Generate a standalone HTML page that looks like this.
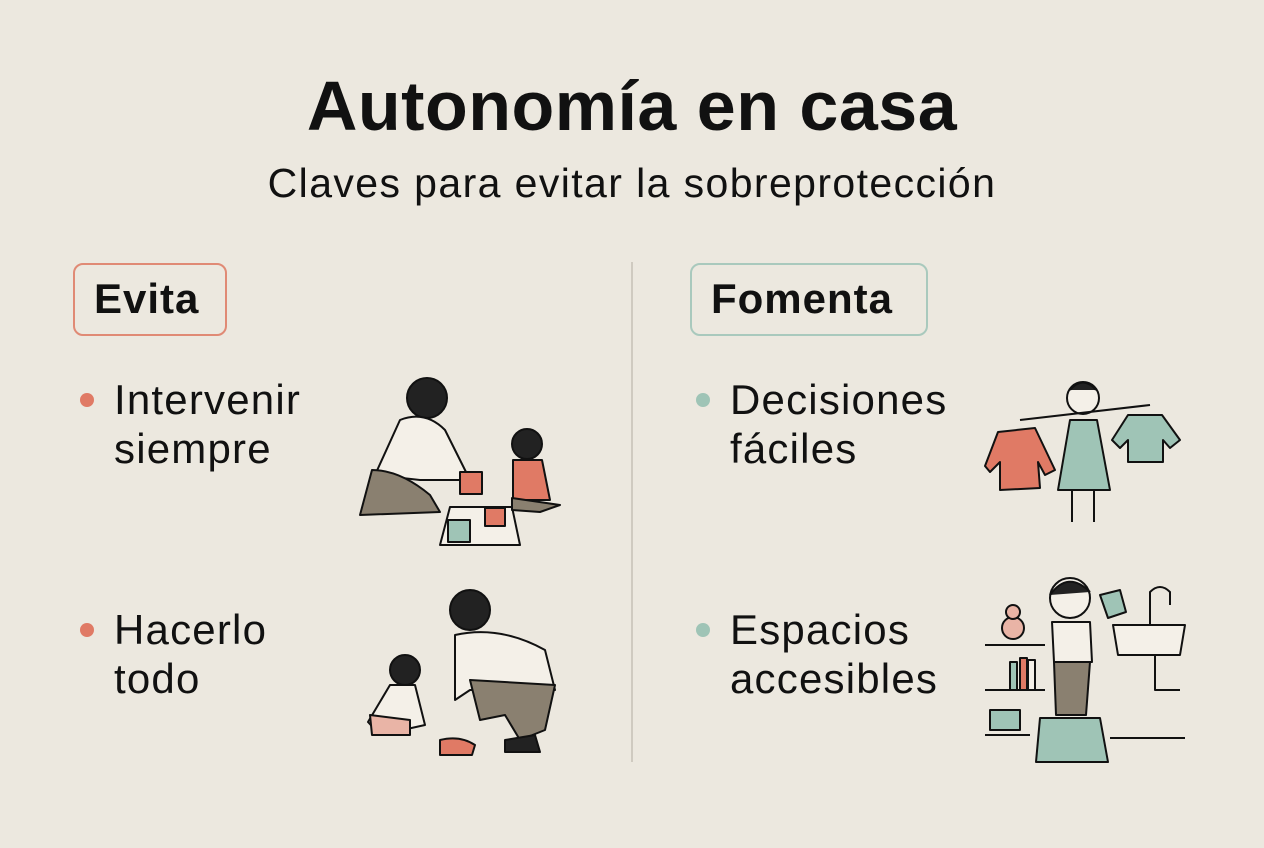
<!DOCTYPE html>
<html><head><meta charset="utf-8"><style>
body{margin:0;width:1264px;height:848px;background:#ece8df;font-family:"Liberation Sans",sans-serif;position:relative;overflow:hidden;color:#111}
.a{position:absolute}
h1{position:absolute;left:0;width:1264px;top:66px;margin:0;text-align:center;font-size:70px;font-weight:bold;letter-spacing:0.5px}
.sub{left:0;width:1264px;top:160px;text-align:center;font-size:41px;letter-spacing:1.4px}
.box{border:2.5px solid;border-radius:10px;font-size:42px;font-weight:bold;box-sizing:border-box;padding-left:19px;line-height:68px;letter-spacing:1px}
.it{font-size:42px;line-height:49px;letter-spacing:1.2px}
.dot{width:14px;height:14px;border-radius:50%}
</style></head><body>
<h1>Autonomía en casa</h1>
<div class="a sub">Claves para evitar la sobreprotección</div>
<div class="a box" style="left:73px;top:263px;width:154px;height:73px;border-color:#e08a75">Evita</div>
<div class="a box" style="left:690px;top:263px;width:238px;height:73px;border-color:#a9c9bd">Fomenta</div>
<div class="a" style="left:631px;top:262px;width:2px;height:500px;background:#cfcac0"></div>
<div class="a dot" style="left:80px;top:393px;background:#e07a65"></div>
<div class="a it" style="left:114px;top:375px">Intervenir<br>siempre</div>
<div class="a dot" style="left:80px;top:623px;background:#e07a65"></div>
<div class="a it" style="left:114px;top:605px">Hacerlo<br>todo</div>
<div class="a dot" style="left:696px;top:393px;background:#9fc4b6"></div>
<div class="a it" style="left:730px;top:375px">Decisiones<br>fáciles</div>
<div class="a dot" style="left:696px;top:623px;background:#9fc4b6"></div>
<div class="a it" style="left:730px;top:605px">Espacios<br>accesibles</div>
<svg class="a" style="left:0;top:0" width="1264" height="848" stroke="#111" stroke-width="2" stroke-linejoin="round">
<polygon points="450,507 512,507 520,545 440,545" fill="#f4f0e8"/>
<rect x="448" y="520" width="22" height="22" fill="#9fc4b6"/><rect x="485" y="508" width="20" height="18" fill="#e07a65"/>
<circle cx="427" cy="398" r="20" fill="#222"/><path d="M400,420 Q425,410 445,430 L470,480 L420,480 L375,475 Z" fill="#f4f0e8"/>
<path d="M372,470 Q400,470 430,495 L440,512 L360,515 Z" fill="#8a8070"/>
<rect x="460" y="472" width="22" height="22" fill="#e07a65"/>
<circle cx="527" cy="444" r="15" fill="#222"/><path d="M513,460 L542,460 L550,500 L513,500 Z" fill="#e07a65"/><path d="M512,498 L560,505 L540,512 L512,510 Z" fill="#8a8070"/>
<circle cx="470" cy="610" r="20" fill="#222"/><path d="M455,635 Q500,625 545,650 L555,690 L470,690 L455,700 Z" fill="#f4f0e8"/>
<path d="M470,680 L555,685 L545,730 L520,740 L505,715 L480,720 Z" fill="#8a8070"/><path d="M505,740 L535,735 L540,752 L505,752 Z" fill="#222"/>
<path d="M440,740 Q460,735 475,745 L472,755 L440,755 Z" fill="#e07a65"/>
<circle cx="405" cy="670" r="15" fill="#222"/><path d="M390,685 L415,685 L425,725 L380,735 L368,722 Z" fill="#f4f0e8"/><path d="M370,715 L410,720 L410,735 L372,735 Z" fill="#e9b4a6"/>
<circle cx="1083" cy="398" r="16" fill="#f4f0e8"/><path d="M1070,390 Q1083,375 1096,390" fill="#222"/>
<path d="M1070,420 L1097,420 L1110,490 L1058,490 Z" fill="#9fc4b6"/>
<path d="M1020,420 L1150,405" fill="none"/><line x1="1072" y1="490" x2="1072" y2="522"/><line x1="1094" y1="490" x2="1094" y2="522"/>
<path d="M998,432 L1035,428 L1055,470 L1045,475 L1038,462 L1040,488 L1000,490 L1000,462 L990,472 L985,466 Z" fill="#e07a65"/>
<path d="M1128,415 L1162,415 L1180,440 L1170,448 L1163,440 L1163,462 L1128,462 L1128,440 L1120,448 L1112,440 Z" fill="#9fc4b6"/>
<circle cx="1070" cy="598" r="20" fill="#f4f0e8"/><path d="M1050,595 Q1068,570 1090,592" fill="#222"/>
<path d="M1052,622 L1090,622 L1092,662 L1054,662 Z" fill="#f4f0e8"/><path d="M1054,662 L1090,662 L1086,715 L1056,715 Z" fill="#8a8070"/>
<path d="M1100,595 L1120,590 L1126,612 L1108,618 Z" fill="#9fc4b6"/>
<path d="M1040,718 L1100,718 L1108,762 L1036,762 Z" fill="#9fc4b6"/>
<path d="M1113,625 L1185,625 L1180,655 L1118,655 Z" fill="#f4f0e8"/><path d="M1150,625 L1150,592 Q1160,582 1170,592 L1170,605" fill="none"/>
<path d="M1155,655 L1155,690 L1180,690" fill="none"/>
<line x1="985" y1="645" x2="1045" y2="645"/><line x1="985" y1="690" x2="1045" y2="690"/><line x1="985" y1="735" x2="1030" y2="735"/><line x1="1110" y1="738" x2="1185" y2="738"/>
<circle cx="1013" cy="628" r="11" fill="#e9b4a6"/><circle cx="1013" cy="612" r="7" fill="#e9b4a6"/>
<rect x="1010" y="662" width="7" height="28" fill="#9fc4b6"/><rect x="1020" y="658" width="7" height="32" fill="#e07a65"/><rect x="1028" y="660" width="7" height="30" fill="#f4f0e8"/>
<rect x="990" y="710" width="30" height="20" fill="#9fc4b6"/>
</svg>
</body></html>
